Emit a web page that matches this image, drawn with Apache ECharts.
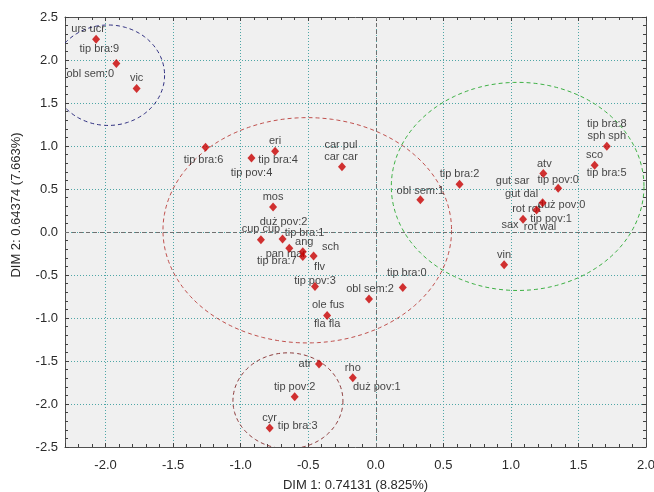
<!DOCTYPE html>
<html>
<head>
<meta charset="utf-8">
<script src="https://cdn.jsdelivr.net/npm/echarts@6/dist/echarts.min.js"></script>
<style>
  html, body { margin: 0; padding: 0; background: #ffffff; }
  #chart { width: 654px; height: 492px; }
</style>
</head>
<body>
<div id="chart"></div>
<script>
// Correspondence analysis map: category coordinates on the first two dimensions.
const pointLabels = [
  ['urs ucr'], ['tip bra:9', 'obl sem:0'], ['vic'], ['tip bra:6'],
  ['eri', 'tip bra:4'], ['tip pov:4'], ['car pul', 'car car'], ['mos'],
  ['cup cup'], ['duż pov:2', 'tip bra:1'], ['ang'], ['pan mar'], ['tip bra:7'],
  ['sch', 'flv'], ['tip pov:3'], ['obl sem:2'], ['tip bra:0'], ['ole fus', 'fla fla'],
  ['obl sem:1'], ['tip bra:2'], ['atv'], ['tip pov:0'],
  ['gut sar', 'gut dal', 'duż pov:0'], ['rot rot'], ['sax', 'tip pov:1', 'rot wal'],
  ['vin'], ['tip bra:8', 'sph sph'], ['sco', 'tip bra:5'],
  ['atr'], ['rho', 'duż pov:1'], ['tip pov:2'], ['cyr', 'tip bra:3']
];
const dim1 = [-2.07, -1.92, -1.77, -1.26, -0.745, -0.92, -0.25, -0.76, -0.85, -0.69, -0.64,
  -0.54, -0.54, -0.46, -0.45, -0.05, 0.20, -0.36, 0.33, 0.62, 1.24, 1.35, 1.235, 1.19, 1.09,
  0.95, 1.71, 1.62, -0.42, -0.17, -0.60, -0.785];
const dim2 = [2.24, 1.96, 1.67, 0.985, 0.94, 0.86, 0.76, 0.29, -0.09, -0.08, -0.19,
  -0.23, -0.285, -0.28, -0.635, -0.78, -0.645, -0.97, 0.375, 0.555, 0.68, 0.51, 0.34, 0.256, 0.147,
  -0.38, 0.996, 0.776, -1.535, -1.695, -1.915, -2.28];

// Group outlines (centre and half-axes in axis units).
const groupCx = [-1.98, -0.507, 1.05, -0.65];
const groupCy = [1.823, 0.02, 0.53, -1.963];
const groupRx = [0.417, 1.068, 0.935, 0.407];
const groupRy = [0.584, 1.31, 1.21, 0.558];

// Presentation: label offsets (px) relative to the marker, outline colours.
const labelOffset = {
  'urs ucr': [-8, -10], 'tip bra:9': [-17, -14], 'obl sem:0': [-26, 11], 'vic': [0, -10],
  'tip bra:6': [-2, 13], 'eri': [0, -10], 'tip bra:4': [3, 9], 'tip pov:4': [0, 15],
  'car pul': [-1, -22], 'car car': [-1, -10], 'mos': [0, -10], 'cup cup': [0, -11],
  'duż pov:2': [1, -17], 'tip bra:1': [22, -6], 'ang': [15, -6], 'pan mar': [-17, 2],
  'tip bra:7': [-26, 4], 'sch': [17, -9], 'flv': [6, 11], 'tip pov:3': [0, -6],
  'obl sem:2': [1, -10], 'tip bra:0': [4, -15], 'ole fus': [1, -10], 'fla fla': [0, 9],
  'obl sem:1': [0, -9], 'tip bra:2': [0, -10], 'atv': [1, -10], 'tip pov:0': [0, -8],
  'gut sar': [-30, -22], 'gut dal': [-21, -9], 'duż pov:0': [19, 2], 'rot rot': [-10, -1],
  'sax': [-13, 6], 'tip pov:1': [28, 0], 'rot wal': [17, 8], 'vin': [0, -10],
  'tip bra:8': [0, -22], 'sph sph': [0, -10], 'sco': [0, -10], 'tip bra:5': [12, 8],
  'atr': [-14, 0], 'rho': [0, -10], 'duż pov:1': [24, 9], 'tip pov:2': [0, -10],
  'cyr': [0, -10], 'tip bra:3': [28, -2]
};
const groupColors = ['#2e2e80', '#c0504d', '#3cb043', '#8b3a3a'];

const FONT = 'Liberation Sans, Arial, sans-serif';
const GRID_LINE = { color: '#4fa6a6', type: [1, 2], width: 1 };

const markerData = dim1.map((x, i) => ({ name: pointLabels[i].join(', '), value: [x, dim2[i]] }));
const labelData = [];
pointLabels.forEach((names, i) => {
  names.forEach(n => {
    labelData.push({
      name: n,
      value: [dim1[i], dim2[i]],
      label: { offset: labelOffset[n] || [0, -10] }
    });
  });
});
const groupData = groupCx.map((cx, i) => [cx, groupCy[i], groupRx[i], groupRy[i], i]);

function axisCommon(showLabels) {
  return {
    type: 'value',
    axisLine: { show: true, onZero: false, lineStyle: { color: '#505050', width: 1 } },
    axisTick: { show: true, inside: true, length: 4, lineStyle: { color: '#404040' } },
    minorTick: { show: true, splitNumber: 5, length: 3, lineStyle: { color: '#404040' } },
    axisLabel: showLabels
      ? { show: true, color: '#2a2a2a', fontFamily: FONT, fontSize: 13, formatter: v => v.toFixed(1) }
      : { show: false },
    splitLine: { show: false },
    minorSplitLine: { show: false }
  };
}

const xMain = Object.assign(axisCommon(true), {
  min: -2.3, max: 2.0, splitNumber: 9, position: 'bottom',
  name: 'DIM 1: 0.74131 (8.825%)', nameLocation: 'middle', nameGap: 32,
  nameTextStyle: { color: '#2a2a2a', fontFamily: FONT, fontSize: 13 },
  splitLine: { show: true, lineStyle: GRID_LINE }
});
xMain.axisLabel.margin = 12;
xMain.axisLabel.showMinLabel = false;
const xTop = Object.assign(axisCommon(false), { min: -2.3, max: 2.0, splitNumber: 9, position: 'top' });

const yMain = Object.assign(axisCommon(true), {
  min: -2.5, max: 2.5, interval: 0.5, position: 'left',
  name: 'DIM 2: 0.64374 (7.663%)', nameLocation: 'middle', nameGap: 42, nameRotate: 90,
  nameTextStyle: { color: '#2a2a2a', fontFamily: FONT, fontSize: 13, padding: [0, 0, 0, 54] },
  splitLine: { show: true, lineStyle: GRID_LINE },
  splitArea: { show: true, areaStyle: { color: ['#f0f0f0'] } }
});
yMain.axisLabel.margin = 7;
const yRight = Object.assign(axisCommon(false), { min: -2.5, max: 2.5, interval: 0.5, position: 'right' });

const chart = echarts.init(document.getElementById('chart'), null, { renderer: 'canvas' });
chart.setOption({
  animation: false,
  backgroundColor: '#ffffff',
  grid: { left: 65, right: 8, top: 17, bottom: 45, show: false, containLabel: false, outerBoundsMode: 'none' },
  xAxis: [xMain, xTop],
  yAxis: [yMain, yRight],
  series: [
    {
      type: 'custom',
      z: 2,
      silent: true,
      data: groupData,
      renderItem: function (params, api) {
        const c = api.coord([api.value(0), api.value(1)]);
        const s = api.size([api.value(2), api.value(3)]);
        const pts = [];
        for (let k = 0; k <= 180; k++) {
          const a = (k / 180) * Math.PI * 2;
          pts.push([c[0] + s[0] * Math.cos(a), c[1] + s[1] * Math.sin(a)]);
        }
        const cs = params.coordSys;
        return {
          type: 'group',
          clipPath: { type: 'rect', shape: { x: cs.x, y: cs.y, width: cs.width, height: cs.height } },
          children: [{
            type: 'polyline',
            shape: { points: pts },
            style: { fill: null, stroke: groupColors[api.value(4)], lineWidth: 1, lineDash: [4, 3] }
          }]
        };
      }
    },
    {
      type: 'scatter',
      z: 3,
      symbolSize: 0,
      silent: true,
      data: labelData,
      label: {
        show: true, position: 'inside', formatter: '{b}',
        color: '#151515', fontFamily: FONT, fontSize: 11
      }
    },
    {
      type: 'scatter',
      z: 4,
      symbol: 'diamond',
      symbolSize: [8, 9],
      itemStyle: { color: '#c80000' },
      data: markerData,
      markLine: {
        silent: true, symbol: 'none', label: { show: false },
        lineStyle: { color: '#707070', type: [4, 3], width: 1 },
        data: [{ xAxis: 0 }, { yAxis: 0 }]
      }
    }
  ]
});
</script>
</body>
</html>
